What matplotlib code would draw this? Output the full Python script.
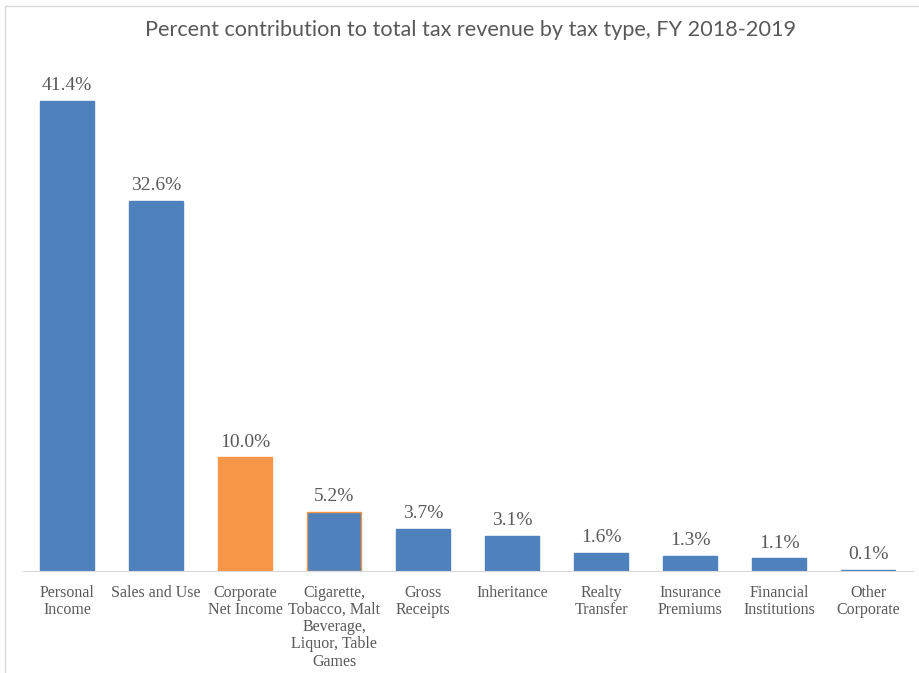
import matplotlib
matplotlib.use("Agg")
import matplotlib.pyplot as plt
from matplotlib.patches import Rectangle

categories = ["Personal\nIncome", "Sales and Use", "Corporate\nNet Income",
              "Cigarette,\nTobacco, Malt\nBeverage,\nLiquor, Table\nGames",
              "Gross\nReceipts", "Inheritance", "Realty\nTransfer",
              "Insurance\nPremiums", "Financial\nInstitutions", "Other\nCorporate"]
values = [41.4, 32.6, 10.0, 5.2, 3.7, 3.1, 1.6, 1.3, 1.1, 0.1]
highlight = "Corporate\nNet Income"

blue = "#4F81BD"
orange = "#F79646"
text_gray = "#595959"
serif = ["Liberation Serif", "DejaVu Serif"]

fig = plt.figure(figsize=(9.2, 6.73), dpi=100)
ax = fig.add_axes([0.0245, 0.1516, 0.9674, 0.7593])

colors = [orange if c == highlight else blue for c in categories]
edges = list(colors)
edges[3] = orange  # the cigarette bar has an orange outline in the source
x = range(len(categories))
bars = ax.bar(x, values, width=0.61, color=colors, edgecolor=edges, linewidth=1)

for b, v in zip(bars, values):
    ax.text(b.get_x() + b.get_width() / 2, v + 0.6, f"{v:.1f}%",
            ha="center", va="bottom", fontsize=14, color=text_gray, family=serif)

ax.set_xlim(-0.5, len(categories) - 0.5)
ax.set_ylim(0, 45)
ax.set_xticks(list(x))
ax.set_xticklabels(categories, fontsize=11.5, color=text_gray, family=serif,
                   linespacing=1.1, va="top")
ax.tick_params(axis="x", length=0, pad=10)
ax.set_yticks([])
for s in ["top", "right", "left"]:
    ax.spines[s].set_visible(False)
ax.spines["bottom"].set_color("#D9D9D9")

fig.text(0.511, 0.955, "Percent contribution to total tax revenue by tax type, FY 2018-2019",
         ha="center", va="center", fontsize=15.6, color=text_gray,
         family=["Lato", "DejaVu Sans"])

# chart frame
fig.patches.append(Rectangle((5 / 920, -0.1), 1.2, 1.1 - 6 / 673, transform=fig.transFigure,
                             fill=False, edgecolor="#D9D9D9", linewidth=1))

fig.savefig("out.png", dpi=100)
